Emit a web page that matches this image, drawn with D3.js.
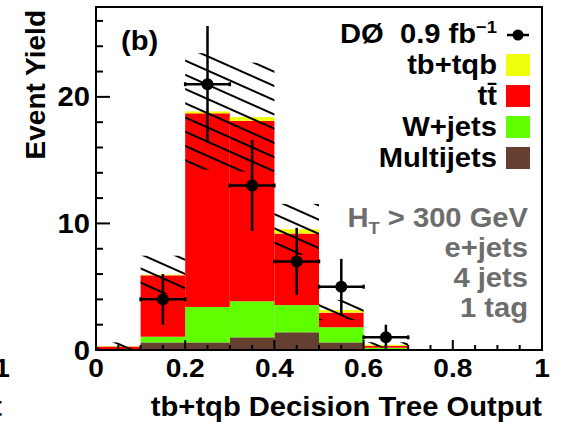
<!DOCTYPE html>
<meta charset="utf-8">
<style>
body { margin: 0; background: #fff; }
text { font-family: "Liberation Sans", Arial, sans-serif; font-weight: bold; }
</style>
<body>
<svg width="562" height="424"></svg>
<script src="https://cdn.jsdelivr.net/npm/d3@7/dist/d3.min.js"></script>
<script>

// bins of width 0.1 on the decision tree output
var binLo = [0, 0.1, 0.2, 0.3, 0.4, 0.5, 0.6, 0.7, 0.8, 0.9];
var multijets = [0.02, 0.6, 0.6, 1.0, 1.4, 0.6, 0.03, 0, 0, 0];
var wjets     = [0.03, 0.45, 2.8, 2.85, 2.15, 1.2, 0.15, 0.02, 0.02, 0.02];
var ttbar     = [0.22, 4.85, 15.3, 14.25, 5.65, 1.15, 0.15, 0.03, 0.03, 0.03];
var tbtqb     = [0.03, 0.05, 0.15, 0.3, 0.34, 0.21, 0.08, 0.02, 0.02, 0.02];
var bandErr   = [0.3, 1.5, 4.6, 4.3, 2.0, 0.8, 0.2, 0, 0, 0];

// D0 data
var dataX   = [0.15, 0.25, 0.35, 0.45, 0.55, 0.65];
var dataY   = [4, 21, 13, 7, 5, 1];
var dataErr = [2, 4.6, 3.6, 2.65, 2.2, 1];

var xMajor = [0, 0.2, 0.4, 0.6, 0.8, 1];
var xMajorLabels = ["0", "0.2", "0.4", "0.6", "0.8", "1"];
var yMajor = [0, 10, 20];
var yMajorLabels = ["0", "10", "20"];

var legendNames  = ["tb+tqb", "tt\u0304", "W+jets", "Multijets"];
var legendColors = ["#f0ff0a", "#ff0000", "#5fff00", "#653f30"];
var cutLines = ["e+jets", "4 jets", "1 tag"];

var svg = d3.select("svg");
var x = d3.scaleLinear().domain([0, 1]).range([96, 542]);
var y = d3.scaleLinear().domain([0, 27.1]).range([350, 7]);

// text in the original is a bit wider than Liberation Sans
var stretch = 1.08;
function label(g, px, py, str, size, anchor) {
  return g.append("text")
      .attr("transform", "translate(" + px + "," + py + ") scale(" + stretch + ",1)")
      .attr("text-anchor", anchor || "start")
      .attr("font-size", size)
      .text(str);
}

// stacked histogram
var rows = binLo.map(function(lo, i) {
  return {lo: lo, mj: multijets[i], wj: wjets[i], tt: ttbar[i], tb: tbtqb[i]};
});
var keys = ["mj", "wj", "tt", "tb"];
var keyColor = {mj: "#653f30", wj: "#5fff00", tt: "#ff0000", tb: "#f0ff0a"};
var stacked = d3.stack().keys(keys)(rows);

var defs = svg.append("defs");
var pat = defs.append("pattern")
    .attr("id", "hatch")
    .attr("patternUnits", "userSpaceOnUse")
    .attr("width", 40).attr("height", 13)
    .attr("patternTransform", "rotate(24)");
pat.append("line")
    .attr("x1", 0).attr("x2", 40).attr("y1", 6).attr("y2", 6)
    .attr("stroke", "#000").attr("stroke-width", 2);

svg.append("g").selectAll("g")
  .data(stacked).enter().append("g")
    .attr("fill", function(d) { return keyColor[d.key]; })
  .selectAll("rect")
  .data(function(d) { return d; }).enter().append("rect")
    .attr("x", function(d) { return x(d.data.lo); })
    .attr("width", x(0.1) - x(0))
    .attr("y", function(d) { return y(d[1]); })
    .attr("height", function(d) { return y(d[0]) - y(d[1]); });

// uncertainty band
svg.append("g").selectAll("rect")
  .data(rows).enter().append("rect")
    .attr("x", function(d) { return x(d.lo); })
    .attr("width", x(0.1) - x(0))
    .attr("y", function(d, i) { return y(d.mj + d.wj + d.tt + d.tb + bandErr[i]); })
    .attr("height", function(d, i) { return y(0) - y(2 * bandErr[i]); })
    .attr("fill", "url(#hatch)");

// ticks (drawn inward)
var xMinor = d3.range(0, 1.0001, 0.05);
svg.append("g").selectAll("line")
  .data(xMinor).enter().append("line")
    .attr("x1", function(d) { return x(d); }).attr("x2", function(d) { return x(d); })
    .attr("y1", y(0))
    .attr("y2", function(d, i) { return y(0) - (i % 4 == 0 ? 10 : 5); })
    .attr("stroke", "#000").attr("stroke-width", 2);

var yMinor = d3.range(0, 27, 2);
svg.append("g").selectAll("line")
  .data(yMinor).enter().append("line")
    .attr("y1", function(d) { return y(d); }).attr("y2", function(d) { return y(d); })
    .attr("x1", x(0))
    .attr("x2", function(d) { return x(0) + (d % 10 == 0 ? 14 : 7); })
    .attr("stroke", "#000").attr("stroke-width", 2);

// frame
svg.append("rect")
    .attr("x", x(0)).attr("y", y(27.1))
    .attr("width", x(1) - x(0)).attr("height", y(0) - y(27.1))
    .attr("fill", "none").attr("stroke", "#000").attr("stroke-width", 2);

// data points
var pts = svg.append("g");
pts.selectAll(".ey").data(dataX).enter().append("line")
    .attr("x1", function(d) { return x(d); }).attr("x2", function(d) { return x(d); })
    .attr("y1", function(d, i) { return y(Math.max(0, dataY[i] - dataErr[i])); })
    .attr("y2", function(d, i) { return y(dataY[i] + dataErr[i]); })
    .attr("stroke", "#000").attr("stroke-width", 2.5);
pts.selectAll(".ex").data(dataX).enter().append("line")
    .attr("x1", function(d) { return x(d - 0.05); }).attr("x2", function(d) { return x(d + 0.05); })
    .attr("y1", function(d, i) { return y(dataY[i]); })
    .attr("y2", function(d, i) { return y(dataY[i]); })
    .attr("stroke", "#000").attr("stroke-width", 2.5);
[-0.05, 0.05].forEach(function(off) {
  pts.selectAll(null).data(dataX).enter().append("line")
      .attr("x1", function(d) { return x(d + off); }).attr("x2", function(d) { return x(d + off); })
      .attr("y1", function(d, i) { return y(dataY[i]) - 2; })
      .attr("y2", function(d, i) { return y(dataY[i]) + 2; })
      .attr("stroke", "#000").attr("stroke-width", 2.5);
});
pts.selectAll("circle").data(dataX).enter().append("circle")
    .attr("cx", function(d) { return x(d); })
    .attr("cy", function(d, i) { return y(dataY[i]); })
    .attr("r", 6).attr("fill", "#000");

// axis labels
var xl = svg.append("g");
xMajor.forEach(function(d, i) { label(xl, x(d), 377, xMajorLabels[i], 26, "middle"); });
var yl = svg.append("g");
yMajor.forEach(function(d, i) { label(yl, 90, y(d) + 9.5, yMajorLabels[i], 27, "end"); });

label(svg, 542, 416, "tb+tqb Decision Tree Output", 27, "end");
svg.append("text")
    .attr("transform", "translate(45,10) rotate(-90)")
    .attr("text-anchor", "end").attr("font-size", 28)
    .text("Event Yield");

// neighbouring panel peeking in at the left edge
var nb = svg.append("g").attr("transform", "translate(-540,0)");
label(nb, 542, 377, "1", 26, "middle");
label(nb, 542, 416, "tb+tqb Decision Tree Output", 27, "end");

label(svg, 121, 50, "(b)", 27);

// legend
var leg = svg.append("g");
var d0 = label(leg, 497, 43, "", 27, "end");
d0.append("tspan").text("D\u00d8\u00a0\u00a00.9 fb");
d0.append("tspan").attr("dy", -10).attr("font-size", 17).text("\u22121");
leg.append("line").attr("x1", 507).attr("x2", 529).attr("y1", 35).attr("y2", 35)
    .attr("stroke", "#000").attr("stroke-width", 2.5);
leg.append("circle").attr("cx", 518).attr("cy", 35).attr("r", 5.5).attr("fill", "#000");
legendNames.forEach(function(d, i) { label(leg, 497, 74 + i * 31.1, d, 27, "end"); });
leg.selectAll("rect").data(legendColors).enter().append("rect")
    .attr("x", 506).attr("width", 24)
    .attr("y", function(d, i) { return 54 + i * 31; }).attr("height", 22)
    .attr("fill", function(d) { return d; });

// selection text
var sel = svg.append("g").attr("fill", "#6d6d6d");
var ht = label(sel, 528, 227, "", 27, "end");
ht.append("tspan").text("H");
ht.append("tspan").attr("dy", 7).attr("font-size", 17).text("T");
ht.append("tspan").attr("dy", -7).text(" > 300 GeV");
cutLines.forEach(function(d, i) { label(sel, 528, 257 + i * 30, d, 27, "end"); });

</script>
</body>
